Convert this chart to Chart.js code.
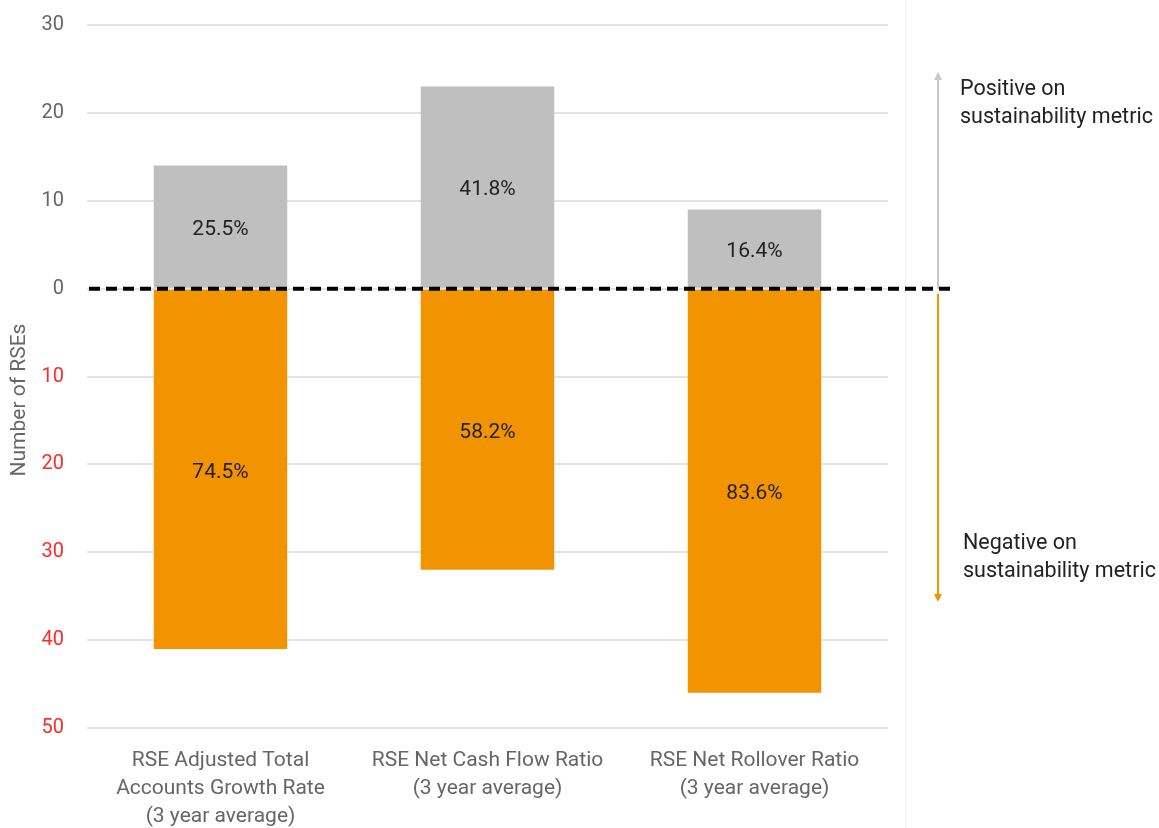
<!DOCTYPE html>
<html>
<head>
<meta charset="utf-8">
<script src="https://cdn.jsdelivr.net/npm/chart.js@4.4.0/dist/chart.umd.min.js"></script>
<style>
  html, body { margin: 0; padding: 0; background: #fff; }
  #wrap { position: relative; width: 1159px; height: 828px; }
</style>
</head>
<body>
<div id="wrap"><canvas id="rse-chart" width="1159" height="828"></canvas></div>
<script>
// カテゴリとデータ
const categories = [
  ['RSE Adjusted Total', 'Accounts Growth Rate', '(3 year average)'],
  ['RSE Net Cash Flow Ratio', '(3 year average)'],
  ['RSE Net Rollover Ratio', '(3 year average)']
];
const positiveCounts = [14, 23, 9];
const negativeCounts = [-41, -32, -46];
const yTicks = [-50, -40, -30, -20, -10, 0, 10, 20, 30];

const FONT = "Roboto, 'Noto Sans', sans-serif";

// 棒の中にパーセントを描く
const pctLabels = {
  id: 'pctLabels',
  afterDatasetsDraw(chart) {
    const ctx = chart.ctx;
    ctx.save();
    ctx.font = '21px ' + FONT;
    ctx.fillStyle = '#222';
    ctx.textAlign = 'center';
    ctx.textBaseline = 'middle';
    chart.data.datasets.forEach((ds, di) => {
      const meta = chart.getDatasetMeta(di);
      meta.data.forEach((bar, i) => {
        const total = positiveCounts[i] + Math.abs(negativeCounts[i]);
        const pct = (Math.abs(ds.data[i]) / total * 100).toFixed(1) + '%';
        const mid = (bar.y + bar.base) / 2 + 3;
        ctx.fillText(pct, bar.x, mid);
      });
    });
    ctx.restore();
  }
};

// 破線・矢印・注記
const overlay = {
  id: 'overlay',
  afterDraw(chart) {
    const ctx = chart.ctx;
    const y = chart.scales.y;
    const zero = y.getPixelForValue(0);
    const ax = 938;
    ctx.save();

    // 右側の区切り線
    ctx.strokeStyle = '#f0f0f0';
    ctx.lineWidth = 1;
    ctx.beginPath();
    ctx.moveTo(905.5, 0);
    ctx.lineTo(905.5, 828);
    ctx.stroke();

    // 上向き矢印（灰色）
    ctx.strokeStyle = '#c8c8c8';
    ctx.fillStyle = '#c8c8c8';
    ctx.lineWidth = 2;
    ctx.beginPath();
    ctx.moveTo(ax, zero);
    ctx.lineTo(ax, 78);
    ctx.stroke();
    ctx.beginPath();
    ctx.moveTo(ax - 4, 80);
    ctx.lineTo(ax + 4, 80);
    ctx.lineTo(ax, 72);
    ctx.closePath();
    ctx.fill();

    // 下向き矢印（オレンジ）
    ctx.strokeStyle = '#f29400';
    ctx.fillStyle = '#f29400';
    ctx.beginPath();
    ctx.moveTo(ax, zero + 5);
    ctx.lineTo(ax, 596);
    ctx.stroke();
    ctx.beginPath();
    ctx.moveTo(ax - 4, 594);
    ctx.lineTo(ax + 4, 594);
    ctx.lineTo(ax, 602);
    ctx.closePath();
    ctx.fill();

    // ゼロの破線
    ctx.strokeStyle = '#000';
    ctx.lineWidth = 4;
    ctx.setLineDash([11, 6]);
    ctx.beginPath();
    ctx.moveTo(89, zero);
    ctx.lineTo(951, zero);
    ctx.stroke();
    ctx.setLineDash([]);

    // 注記テキスト
    ctx.font = '21.5px ' + FONT;
    ctx.fillStyle = '#222';
    ctx.textAlign = 'left';
    ctx.textBaseline = 'middle';
    ctx.fillText('Positive on', 960, 90);
    ctx.fillText('sustainability metric', 960, 118);
    ctx.fillText('Negative on', 963, 544);
    ctx.fillText('sustainability metric', 963, 572);

    // Y軸タイトル
    ctx.save();
    ctx.translate(20, 400);
    ctx.rotate(-Math.PI / 2);
    ctx.textAlign = 'center';
    ctx.fillStyle = '#666';
    ctx.font = '21px ' + FONT;
    ctx.fillText('Number of RSEs', 0, 0);
    ctx.restore();

    ctx.restore();
  }
};

const ctx = document.getElementById('rse-chart');
new Chart(ctx, {
  type: 'bar',
  data: {
    labels: categories,
    datasets: [
      {
        label: 'Positive',
        data: positiveCounts,
        backgroundColor: '#bfbfbf',
        barPercentage: 0.5,
        categoryPercentage: 1.0
      },
      {
        label: 'Negative',
        data: negativeCounts,
        backgroundColor: '#f29400',
        barPercentage: 0.5,
        categoryPercentage: 1.0
      }
    ]
  },
  options: {
    responsive: false,
    animation: false,
    layout: {
      padding: { left: 0, top: 25, right: 271, bottom: 0 }
    },
    plugins: {
      legend: { display: false },
      tooltip: { enabled: false }
    },
    scales: {
      x: {
        stacked: true,
        grid: { display: false },
        border: { display: false },
        ticks: {
          color: '#666',
          padding: 11,
          maxRotation: 0,
          autoSkip: false,
          font: { family: FONT, size: 21, lineHeight: 1.33 }
        },
        afterFit(scale) { scale.height = 100; }
      },
      y: {
        stacked: true,
        min: -50,
        max: 30,
        afterBuildTicks(scale) {
          scale.ticks = yTicks.map(v => ({ value: v }));
        },
        grid: { color: '#e3e3e3', drawTicks: false, lineWidth: 2 },
        border: { display: false },
        ticks: {
          padding: 23,
          color: (c) => (c.tick && c.tick.value < 0 ? '#ff2b2b' : '#666'),
          font: { family: FONT, size: 20 },
          callback: (v) => Math.abs(v)
        },
        afterFit(scale) {
          scale.width = 87;
          scale.paddingTop = 0;
          scale.paddingBottom = 0;
        }
      }
    }
  },
  plugins: [pctLabels, overlay]
});
</script>
</body>
</html>
